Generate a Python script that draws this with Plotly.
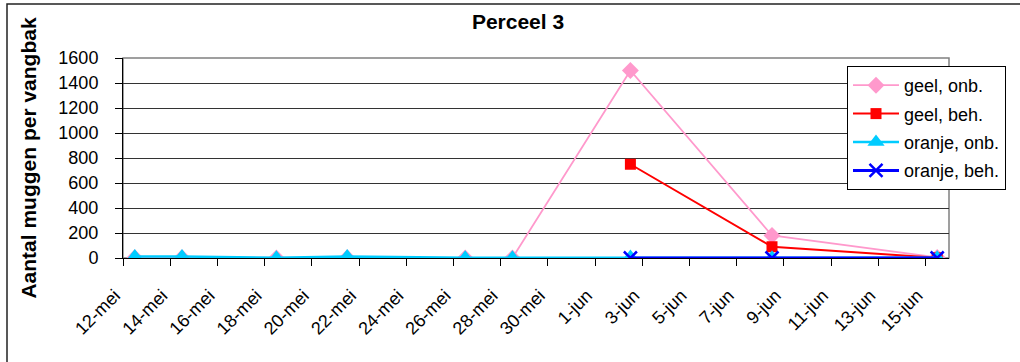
import plotly.graph_objects as go

# Sampling dates (points sit in the middle of each day)
dates = ["2008-05-12", "2008-05-14", "2008-05-18", "2008-05-21", "2008-05-26",
         "2008-05-28", "2008-06-02", "2008-06-08", "2008-06-15"]

geel_onb = [3, 3, 0, 2, 0, 0, 1500, 180, 5]
geel_beh = [None, None, None, None, None, None, 750, 90, 2]
oranje_onb = [12, 12, 2, 12, 2, 2, 8, 3, 3]
oranje_beh = [None, None, None, None, None, None, 0, 0, 0]

tick_dates = ["2008-05-12", "2008-05-14", "2008-05-16", "2008-05-18", "2008-05-20",
              "2008-05-22", "2008-05-24", "2008-05-26", "2008-05-28", "2008-05-30",
              "2008-06-01", "2008-06-03", "2008-06-05", "2008-06-07", "2008-06-09",
              "2008-06-11", "2008-06-13", "2008-06-15"]
tick_labels = ["12-mei", "14-mei", "16-mei", "18-mei", "20-mei", "22-mei", "24-mei",
               "26-mei", "28-mei", "30-mei", "1-jun", "3-jun", "5-jun", "7-jun",
               "9-jun", "11-jun", "13-jun", "15-jun"]

y_ticks = [0, 200, 400, 600, 800, 1000, 1200, 1400, 1600]

W, H = 1020, 362
ML, MR, MT, MB = 123, 71, 58, 104
PW, PH = W - ML - MR, H - MT - MB


def px_x(px):
    return (px - ML) / PW


def px_y(py):
    return (H - MB - py) / PH


FONT = "Liberation Sans, Arial, sans-serif"
noon = [d + " 12:00" for d in dates]

series = [
    ("geel, onb.", geel_onb, "#FF99CC", "diamond", 13, 1.8),
    ("geel, beh.", geel_beh, "#FF0000", "square", 11, 2),
    ("oranje, onb.", oranje_onb, "#00CCFF", "triangle-up", 15, 2.5),
    ("oranje, beh.", oranje_beh, "#0000FF", "x-thin", 13, 3),
]

fig = go.Figure()
for name, vals, color, sym, size, lw in series:
    marker = dict(symbol=sym, size=size, color=color)
    if sym == "x-thin":
        marker["line"] = dict(color=color, width=2.5)
    fig.add_trace(go.Scatter(
        x=noon, y=vals, name=name, mode="lines+markers",
        line=dict(color=color, width=lw), marker=marker,
        legendgroup=name, connectgaps=False,
    ))

fig.update_layout(
    width=W, height=H,
    margin=dict(l=ML, r=MR, t=MT, b=MB),
    paper_bgcolor="white", plot_bgcolor="white",
    font=dict(family=FONT, size=18, color="black"),
    title=dict(text="<b>Perceel 3</b>", font=dict(family=FONT, size=21, color="black"),
               x=518 / W, xref="container", xanchor="center",
               y=1 - 22 / H, yref="container", yanchor="middle"),
    showlegend=True,
    legend=dict(x=px_x(847), y=px_y(66), xanchor="left", yanchor="top",
                bgcolor="white", bordercolor="black", borderwidth=1,
                font=dict(family=FONT, size=18, color="black"),
                tracegroupgap=2, itemwidth=46),
    xaxis=dict(type="date", range=["2008-05-12", "2008-06-16"],
               tickmode="array", tickvals=tick_dates, ticktext=tick_labels,
               tickangle=-45, ticks="outside", ticklen=7, tickcolor="black",
               showline=True, linecolor="black", linewidth=1,
               showgrid=False, zeroline=False, ticklabelstandoff=12,
               ticklabelshift=-8,
               tickfont=dict(family=FONT, size=18, color="black")),
    yaxis=dict(range=[0, 1600], tickmode="array", tickvals=y_ticks,
               ticks="outside", ticklen=7, tickcolor="black",
               showline=True, linecolor="black", linewidth=1,
               showgrid=True, gridcolor="#333333", gridwidth=1, zeroline=False,
               ticklabelstandoff=13,
               tickfont=dict(family=FONT, size=18, color="black"),
               title=dict(text="<b>Aantal muggen per vangbak</b>",
                          font=dict(family=FONT, size=21, color="black"),
                          standoff=16)),
    shapes=[
        # plot area border
        dict(type="rect", xref="paper", yref="paper", x0=0, x1=1, y0=0, y1=1,
             line=dict(color="#808080", width=1.5), layer="below"),
        # chart frame
        dict(type="rect", xref="paper", yref="paper",
             x0=px_x(7), x1=px_x(1030), y0=px_y(372), y1=px_y(4),
             line=dict(color="#222222", width=1.5), layer="below"),
    ],
)

fig.write_html("out.html")
